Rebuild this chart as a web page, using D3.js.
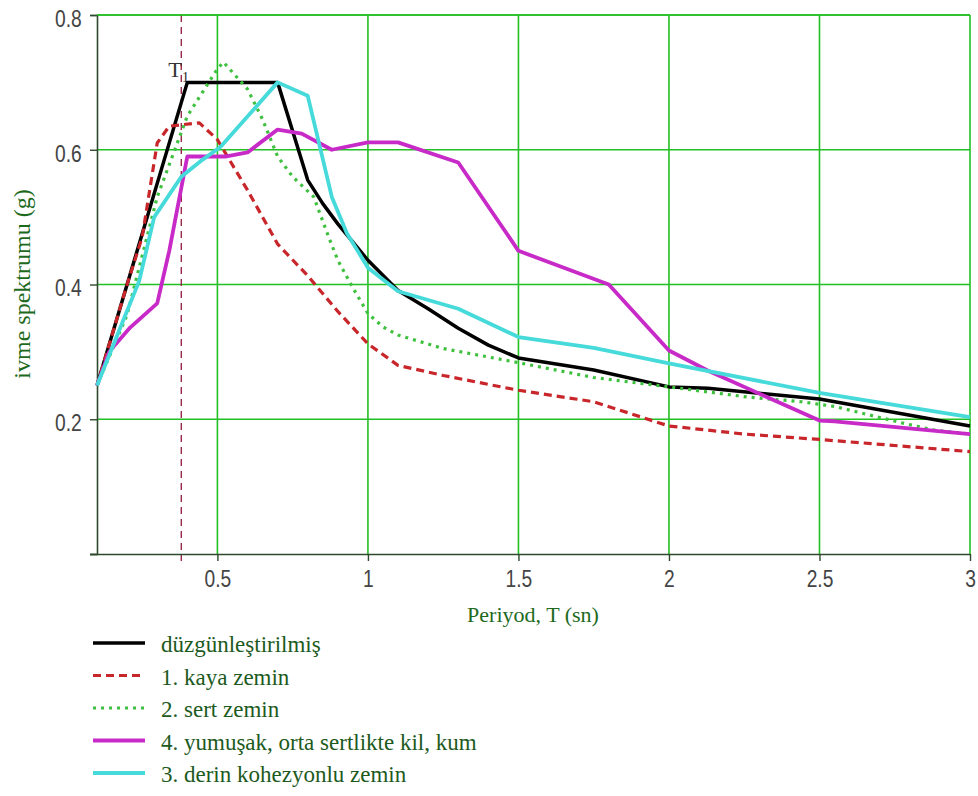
<!DOCTYPE html>
<html>
<head>
<meta charset="utf-8">
<script src="https://cdn.jsdelivr.net/npm/d3@7"></script>
<style>
  body { margin: 0; background: #fff; }
  svg { display: block; }
  .serif { font-family: "Liberation Serif", "DejaVu Serif", "Times New Roman", serif; }
</style>
</head>
<body>
<div id="chart"></div>
<script>
// values: period T (sn) and spectrum (g)
const duzT = [0.1, 0.4, 0.7, 0.8, 0.85, 0.9, 1.0, 1.1, 1.2, 1.3, 1.4, 1.5, 1.75, 2.0, 2.13, 2.5, 3.0];
const duzS = [0.25, 0.70, 0.70, 0.555, 0.52, 0.49, 0.436, 0.391, 0.364, 0.335, 0.31, 0.291, 0.273, 0.248, 0.246, 0.23, 0.19];

const kayaT = [0.1, 0.2, 0.25, 0.3, 0.34, 0.44, 0.5, 0.6, 0.7, 0.8, 0.9, 1.0, 1.1, 1.25, 1.5, 1.75, 2.0, 2.25, 2.5, 3.0];
const kayaS = [0.25, 0.40, 0.47, 0.61, 0.635, 0.64, 0.615, 0.54, 0.46, 0.413, 0.36, 0.312, 0.28, 0.265, 0.243, 0.226, 0.19, 0.178, 0.17, 0.152];

const sertT = [0.1, 0.2, 0.3, 0.4, 0.45, 0.5, 0.52, 0.6, 0.65, 0.7, 0.75, 0.82, 0.87, 0.9, 0.95, 1.0, 1.05, 1.1, 1.25, 1.5, 1.75, 2.0, 2.26, 2.44, 2.55, 2.66, 2.77, 2.88, 3.0];
const sertS = [0.25, 0.355, 0.53, 0.65, 0.685, 0.72, 0.73, 0.69, 0.645, 0.59, 0.56, 0.53, 0.47, 0.436, 0.395, 0.357, 0.337, 0.325, 0.305, 0.284, 0.262, 0.248, 0.233, 0.226, 0.219, 0.207, 0.195, 0.184, 0.178];

const yumusakT = [0.1, 0.14, 0.21, 0.3, 0.34, 0.4, 0.53, 0.6, 0.7, 0.78, 0.88, 1.0, 1.1, 1.3, 1.5, 1.8, 2.0, 2.13, 2.5, 2.55, 3.0];
const yumusakS = [0.25, 0.30, 0.336, 0.372, 0.45, 0.59, 0.59, 0.596, 0.63, 0.624, 0.60, 0.611, 0.611, 0.581, 0.45, 0.40, 0.302, 0.272, 0.198, 0.197, 0.178];

const derinT = [0.1, 0.19, 0.24, 0.29, 0.38, 0.45, 0.51, 0.7, 0.8, 0.88, 0.93, 1.0, 1.1, 1.3, 1.5, 1.75, 2.0, 2.5, 3.0];
const derinS = [0.25, 0.35, 0.405, 0.5, 0.56, 0.585, 0.604, 0.70, 0.68, 0.53, 0.476, 0.425, 0.39, 0.364, 0.322, 0.306, 0.283, 0.239, 0.203];

const T1 = 0.38;

const xTicks = [0.5, 1, 1.5, 2, 2.5, 3];
const yTicks = [0.2, 0.4, 0.6, 0.8];

const legendLabels = [
  "düzgünleştirilmiş",
  "1. kaya zemin",
  "2. sert zemin",
  "4. yumuşak, orta sertlikte kil, kum",
  "3. derin kohezyonlu zemin"
];

// drawing styles, same order as the legend
const styles = [
  { color: "#000000", width: 3.5, dash: null },
  { color: "#c8262a", width: 3.2, dash: "8,5" },
  { color: "#3fc03f", width: 3.2, dash: "3,5" },
  { color: "#c82ac8", width: 3.8, dash: null },
  { color: "#46dada", width: 3.8, dash: null }
];

const width = 978;
const height = 796;
const margin = {top: 15, right: 8, bottom: 242, left: 97};
const innerwidth = width - margin.left - margin.right;
const innerheight = height - margin.top - margin.bottom;

let series = [
  d3.zip(duzT, duzS),
  d3.zip(kayaT, kayaS),
  d3.zip(sertT, sertS),
  d3.zip(yumusakT, yumusakS),
  d3.zip(derinT, derinS)
];

let x_scale = d3.scaleLinear().domain([0.1, 3]).range([0, innerwidth]);
let y_scale = d3.scaleLinear().domain([0, 0.8]).range([innerheight, 0]);

let svg = d3.select("#chart").append("svg")
  .attr("width", width)
  .attr("height", height);

let g = svg.append("g")
  .attr("transform", "translate(" + margin.left + "," + margin.top + ")");

// green grid
let grid_color = "#22c022";
g.append("g")
  .selectAll("line")
  .data(xTicks)
  .enter().append("line")
  .attr("x1", d => x_scale(d)).attr("x2", d => x_scale(d))
  .attr("y1", 0).attr("y2", innerheight)
  .attr("stroke", grid_color).attr("stroke-width", 1.6);

g.append("g")
  .selectAll("line")
  .data(yTicks)
  .enter().append("line")
  .attr("x1", 0).attr("x2", innerwidth)
  .attr("y1", d => y_scale(d)).attr("y2", d => y_scale(d))
  .attr("stroke", grid_color).attr("stroke-width", 1.6);

// T1 marker
g.append("line")
  .attr("x1", x_scale(T1)).attr("x2", x_scale(T1))
  .attr("y1", y_scale(0.8)).attr("y2", innerheight + 7)
  .attr("stroke", "#9a2a4a")
  .attr("stroke-width", 1.4)
  .attr("stroke-dasharray", "7,5");

let t1 = g.append("text")
  .attr("class", "serif")
  .attr("x", x_scale(T1) - 13)
  .attr("y", 62)
  .attr("font-size", 22)
  .attr("fill", "#333");
t1.append("tspan").text("T");
t1.append("tspan").attr("font-size", 15).attr("dy", 5).text("1");

// axes
let x_axis = d3.axisBottom(x_scale).tickValues(xTicks).tickSize(7).tickPadding(9)
  .tickFormat(d3.format("~g"));
let y_axis = d3.axisLeft(y_scale).tickValues([0].concat(yTicks)).tickSize(7).tickPadding(12)
  .tickFormat(d => d === 0 ? "" : d3.format(".1f")(d));

let gx = g.append("g")
  .attr("transform", "translate(0," + innerheight + ")")
  .call(x_axis);
let gy = g.append("g").call(y_axis);

[gx, gy].forEach(function(ax) {
  ax.select(".domain").attr("stroke", "#2e4a2e").attr("stroke-width", 1.6);
  ax.selectAll(".tick line").attr("stroke", "#2e4a2e").attr("stroke-width", 1.4);
  ax.selectAll("text")
    .attr("font-family", "Liberation Sans, Arial, sans-serif")
    .attr("font-size", 24)
    .attr("fill", "#444")
    .attr("transform", "scale(0.8,1)");
});
gy.selectAll("text").attr("dy", "0.47em");
gx.select(".domain").attr("d", "M-7,0.5H" + innerwidth);

// top border is part of the green grid
g.append("line").attr("x1", 0).attr("x2", innerwidth).attr("y1", 0).attr("y2", 0)
  .attr("stroke", grid_color).attr("stroke-width", 1.6);

// data lines
let draw_line = d3.line()
  .curve(d3.curveLinear)
  .x(d => x_scale(d[0]))
  .y(d => y_scale(d[1]));

g.selectAll(".spec_line")
  .data(series)
  .enter().append("path")
  .attr("class", "spec_line")
  .attr("d", d => draw_line(d))
  .attr("fill", "none")
  .attr("stroke", (_, i) => styles[i].color)
  .attr("stroke-width", (_, i) => styles[i].width)
  .attr("stroke-dasharray", (_, i) => styles[i].dash)
  .attr("stroke-linejoin", "round");

// axis titles
svg.append("text")
  .attr("class", "serif")
  .attr("x", 533)
  .attr("y", 622)
  .attr("text-anchor", "middle")
  .attr("font-size", 22)
  .attr("fill", "#1d6a1d")
  .text("Periyod, T (sn)");

svg.append("text")
  .attr("class", "serif")
  .attr("transform", "translate(30,284) rotate(-90)")
  .attr("text-anchor", "middle")
  .attr("font-size", 24)
  .attr("fill", "#1d6a1d")
  .text("ivme spektrumu (g)");

// legend
let legend = svg.append("g").attr("transform", "translate(93,643)");
let rows = legend.selectAll("g")
  .data(legendLabels)
  .enter().append("g")
  .attr("transform", (_, i) => "translate(0," + (i * 32.5) + ")");

rows.append("line")
  .attr("x1", 0).attr("x2", 52)
  .attr("y1", 0).attr("y2", 0)
  .attr("stroke", (_, i) => styles[i].color)
  .attr("stroke-width", (_, i) => styles[i].width)
  .attr("stroke-dasharray", (_, i) => styles[i].dash);

rows.append("text")
  .attr("class", "serif")
  .attr("x", 68)
  .attr("y", 9)
  .attr("font-size", 23)
  .attr("fill", "#1d5a1d")
  .text(d => d);
</script>
</body>
</html>
